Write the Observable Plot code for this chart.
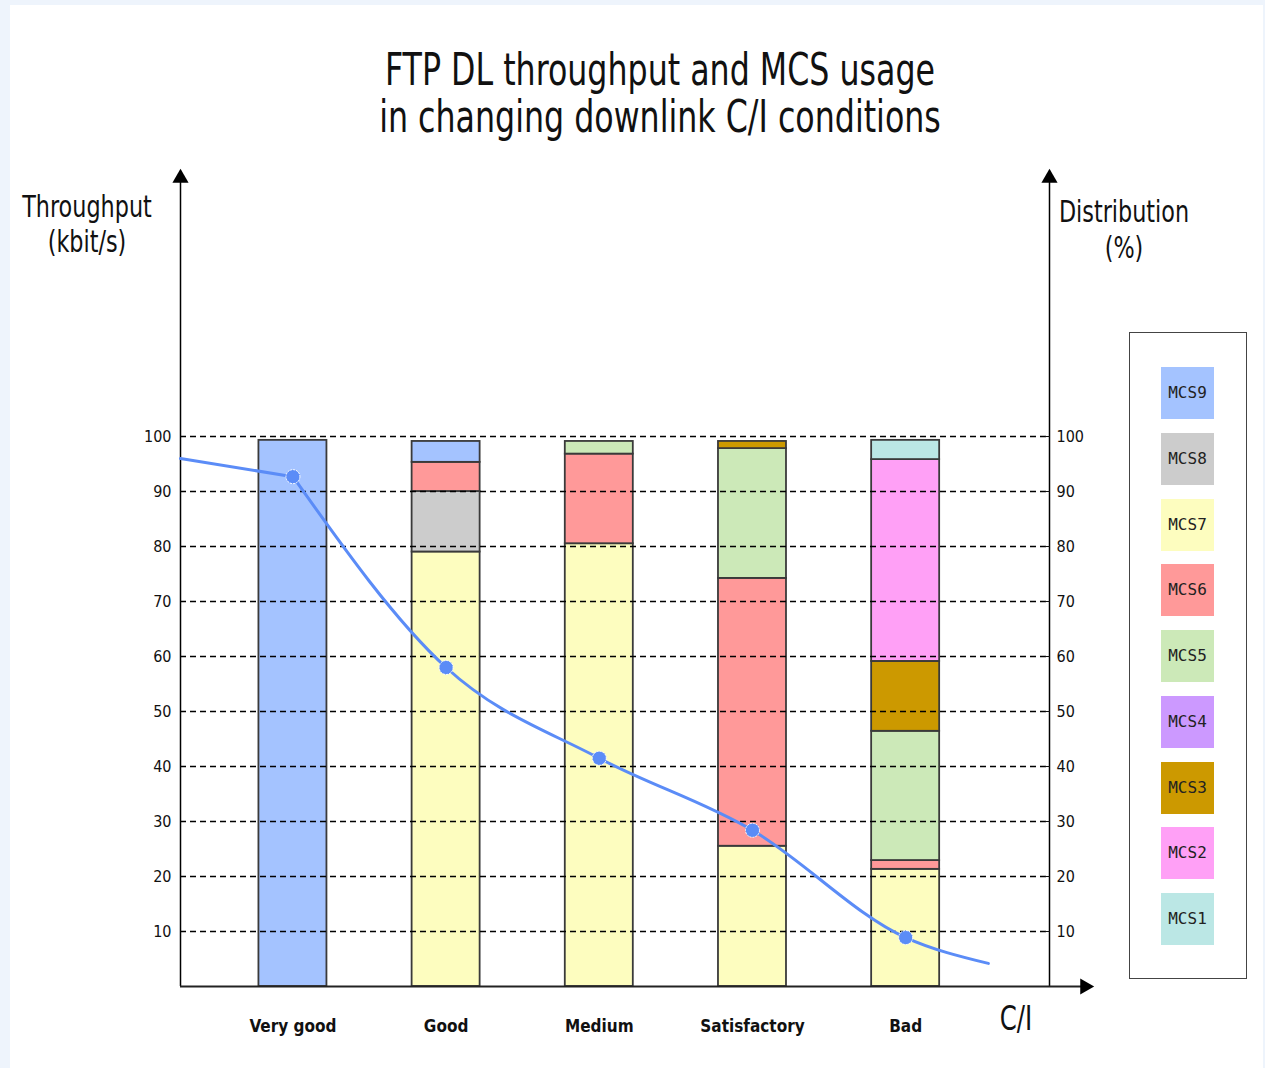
<!DOCTYPE html>
<html><head><meta charset="utf-8">
<script src="https://cdn.jsdelivr.net/npm/d3@7"></script>
<script src="https://cdn.jsdelivr.net/npm/@observablehq/plot@0.6"></script>
<style>
html,body{margin:0;padding:0;background:#eef4fc;}
#page{position:relative;width:1265px;height:1068px;overflow:hidden;}
#panel{position:absolute;left:10px;top:5px;width:1253px;height:1063px;background:#fff;}
#chart{position:absolute;left:0;top:0;}
.lbl{position:absolute;font-family:"DejaVu Sans Condensed","Liberation Sans Narrow",sans-serif;color:#111;text-align:center;white-space:nowrap;}
.t{left:660px;font-size:44px;line-height:47px;transform:translateX(-50%) scaleX(0.8);}
.yl{left:87px;font-size:31px;line-height:32px;transform:translateX(-50%) scaleX(0.8);}
.y2l{left:1124px;font-size:31px;line-height:32px;transform:translateX(-50%) scaleX(0.8);}
#ci{left:1016px;top:1000px;font-size:34px;line-height:36px;transform:translateX(-50%) scaleX(0.8);}
#legend{position:absolute;left:1129px;top:332px;width:116px;height:645px;border:1.5px solid #444;background:#fff;}
.sw{position:absolute;left:31px;width:53px;height:52px;font-family:"DejaVu Sans Mono",monospace;font-size:16px;line-height:52px;text-align:center;color:#222;}
</style></head><body>
<div id="page">
<div id="panel"></div>
<div id="chart"></div>
<div class="lbl t" style="top:46px">FTP DL throughput and MCS usage</div>
<div class="lbl t" style="top:93px">in changing downlink C/I conditions</div>
<div class="lbl yl" style="top:190px">Throughput</div>
<div class="lbl yl" style="top:225px">(kbit/s)</div>
<div class="lbl y2l" style="top:195px">Distribution</div>
<div class="lbl y2l" style="top:231px">(%)</div>
<div class="lbl" id="ci">C/I</div>
<div id="legend"></div>
</div>
<script>
// ---- data ----
const categories = ["Very good", "Good", "Medium", "Satisfactory", "Bad"];
const mcsNames = ["MCS9", "MCS8", "MCS7", "MCS6", "MCS5", "MCS4", "MCS3", "MCS2", "MCS1"];
const mcsColors = ["#a4c3ff", "#cccccc", "#fdfdbf", "#ff9999", "#cce9b8", "#cc99ff", "#cc9900", "#ffa0f6", "#bbe7e5"];
// MCS distribution (%) per C/I condition, listed bottom to top
const veryGoodMix = [["MCS9", 99.3]];
const goodMix = [["MCS7", 79.0], ["MCS8", 11.0], ["MCS6", 5.3], ["MCS9", 3.8]];
const mediumMix = [["MCS7", 80.5], ["MCS6", 16.3], ["MCS5", 2.3]];
const satisfactoryMix = [["MCS7", 25.5], ["MCS6", 48.7], ["MCS5", 23.6], ["MCS3", 1.3]];
const badMix = [["MCS7", 21.3], ["MCS6", 1.6], ["MCS5", 23.5], ["MCS3", 12.7], ["MCS2", 36.7], ["MCS1", 3.5]];
// throughput (kbit/s) at each condition
const throughput = [92.7, 58.0, 41.5, 28.4, 8.9];
// throughput curve continuing before the first and after the last condition
const throughputLead = [-0.734, 96.0];
const throughputTail = [4.54, 4.2];
const yTicks = [10, 20, 30, 40, 50, 60, 70, 80, 90, 100];

// ---- build tables ----
const mixes = [veryGoodMix, goodMix, mediumMix, satisfactoryMix, badMix];
const segments = [];
mixes.forEach((mix, i) => {
  let acc = 0;
  mix.forEach(([mcs, v]) => {
    segments.push({i, mcs, y1: acc, y2: acc + v});
    acc += v;
  });
});
const pts = throughput.map((v, i) => ({x: i, y: v}));
const lead = [{x: throughputLead[0], y: throughputLead[1]}, pts[0]];
const rest = [...pts, {x: throughputTail[0], y: throughputTail[1]}];

const X0 = -0.734, X1 = 4.939, XA = 5.17, HALF = 0.222;
const lineColor = "#5b8cf7";
const font = '"DejaVu Sans Condensed","Liberation Sans Narrow",sans-serif';

const chart = Plot.plot({
  width: 1265, height: 1068,
  marginLeft: 180, marginRight: 216, marginTop: 161, marginBottom: 82,
  x: {domain: [X0, X1], label: null},
  y: {domain: [0, 150], label: null},
  color: {domain: mcsNames, range: mcsColors},
  style: {background: "transparent", fontFamily: font, color: "#111", overflow: "visible"},
  marks: [
    Plot.rect(segments, {x1: d => d.i - HALF, x2: d => d.i + HALF, y1: "y1", y2: "y2", fill: "mcs", stroke: "#3a3a3a", strokeWidth: 1.8}),
    Plot.gridY(yTicks, {stroke: "#000", strokeOpacity: 1, strokeDasharray: "6,4", strokeWidth: 1.6}),
    Plot.ruleX([X0, X1], {y1: 0, y2: 147, stroke: "#000", strokeWidth: 1.5}),
    Plot.ruleY([0], {x1: X0, x2: XA, stroke: "#222", strokeWidth: 2.2}),
    Plot.dot([X0, X1], {x: d => d, y: 147, symbol: "triangle", fill: "#000", r: 6}),
    Plot.dot([XA], {x: d => d, y: 0, symbol: "triangle", rotate: 90, fill: "#000", r: 6}),
    Plot.line(lead, {x: "x", y: "y", stroke: lineColor, strokeWidth: 3, curve: "linear"}),
    Plot.line(rest, {x: "x", y: "y", stroke: lineColor, strokeWidth: 3, curve: "monotone-x"}),
    Plot.dot(pts, {x: "x", y: "y", fill: lineColor, stroke: "#fff", strokeWidth: 1, strokeDasharray: "2,1", r: 7}),
    Plot.axisY(yTicks, {anchor: "left", tickSize: 0, tickPadding: 9, fontSize: 16, label: null}),
    Plot.axisY(yTicks, {anchor: "right", tickSize: 5, insetRight: 5, tickPadding: 7, fontSize: 16, label: null}),
    Plot.axisX([0, 1, 2, 3, 4], {tickFormat: i => categories[i], tickSize: 0, tickPadding: 33, fontSize: 17, fontWeight: "bold", label: null})
  ]
});
document.getElementById("chart").appendChild(chart);

// legend from the MCS arrays
const legend = document.getElementById("legend");
mcsNames.forEach((name, k) => {
  const s = document.createElement("div");
  s.className = "sw";
  s.style.top = (34 + k * 65.75) + "px";
  s.style.background = mcsColors[k];
  s.textContent = name;
  legend.appendChild(s);
});
</script>
</body></html>
